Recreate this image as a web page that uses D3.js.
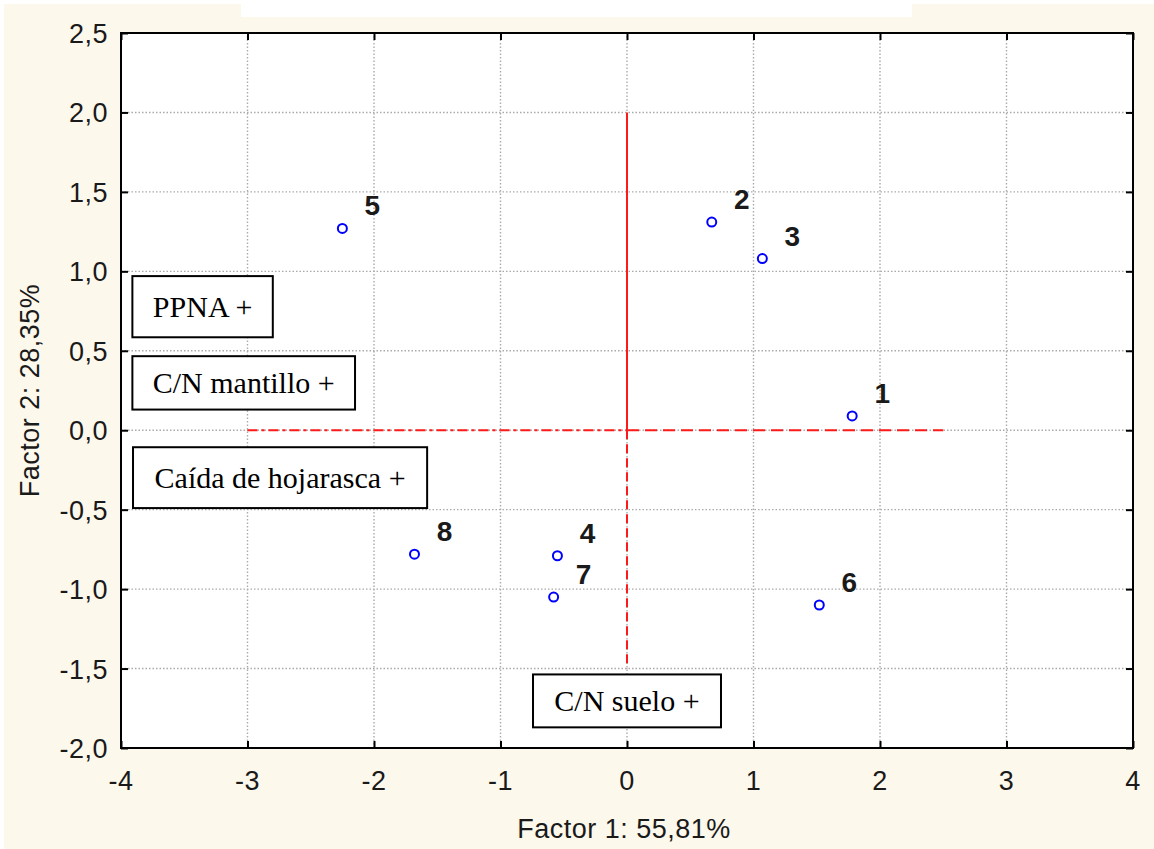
<!DOCTYPE html>
<html>
<head>
<meta charset="utf-8">
<script src="https://cdn.jsdelivr.net/npm/d3@7"></script>
<style>
	html, body { margin: 0; padding: 0; background: #ffffff; }
	svg { display: block; }
</style>
</head>
<body>
<svg></svg>
<script>
const width = 1154;
const height = 849;
const margin = {top: 33, right: 21, bottom: 101, left: 121};
const bgColor = '#fdf8ec';
const pointColor = '#0000ff';
const refColor = '#ff1a1a';
const sans = 'Liberation Sans, Arial, sans-serif';
const serif = 'Liberation Serif, Times New Roman, serif';

// scores of the 8 sites on the two factors
const pointIds = ['1', '2', '3', '4', '5', '6', '7', '8'];
const factor1 = [1.78, 0.67, 1.07, -0.55, -2.25, 1.52, -0.58, -1.68];
const factor2 = [0.09, 1.31, 1.08, -0.79, 1.27, -1.10, -1.05, -0.78];

const xTicks = [-4, -3, -2, -1, 0, 1, 2, 3, 4];
const yTicks = [-2.0, -1.5, -1.0, -0.5, 0.0, 0.5, 1.0, 1.5, 2.0, 2.5];
const xDomain = [-4, 4];
const yDomain = [-2, 2.5];

const xTitle = 'Factor 1: 55,81%';
const yTitle = 'Factor 2: 28,35%';

// variable labels drawn as boxes
const varLabels = ['PPNA +', 'C/N mantillo +', 'Caída de hojarasca +', 'C/N suelo +'];
// box extents in factor units: x0, x1, y0, y1
const varBoxes = [
	[-3.91, -2.80, 0.97, 0.585],
	[-3.91, -2.15, 0.466, 0.13],
	[-3.905, -1.58, -0.107, -0.49],
	[-0.743, 0.743, -1.537, -1.87]
];

// red reference segments: x1, y1, x2, y2, dash
const refSegments = [
	[0, 2, 0, 0, null],
	[0, 0, 0, -1.5, '9,5'],
	[-3, 0, 0, 0, '10,4,3,4'],
	[0, 0, 2.5, 0, '12,6']
];

var svg = d3.select('svg').attr('width', width).attr('height', height);

// background
svg.append('rect').attr('x', 4).attr('y', 4)
	.attr('width', width - 4).attr('height', height - 4)
	.style('fill', bgColor);
svg.append('rect').attr('x', 241).attr('y', 0)
	.attr('width', 671).attr('height', 17)
	.style('fill', '#ffffff');

var x = d3.scaleLinear().domain(xDomain).range([margin.left, width - margin.right]);
var y = d3.scaleLinear().domain(yDomain).range([height - margin.bottom, margin.top]);

var plot = svg.append('g');

plot.append('rect')
	.attr('x', x(xDomain[0])).attr('y', y(yDomain[1]))
	.attr('width', x(xDomain[1]) - x(xDomain[0]))
	.attr('height', y(yDomain[0]) - y(yDomain[1]))
	.style('fill', '#ffffff');

// dotted grid
plot.selectAll('line.gx').data(xTicks.slice(1, -1)).enter().append('line')
	.attr('x1', d => x(d)).attr('x2', d => x(d))
	.attr('y1', y(yDomain[0])).attr('y2', y(yDomain[1]))
	.style('stroke', '#aaaaaa').style('stroke-width', 1.4)
	.style('stroke-dasharray', '1.5,2');
plot.selectAll('line.gy').data(yTicks.slice(1, -1)).enter().append('line')
	.attr('y1', d => y(d)).attr('y2', d => y(d))
	.attr('x1', x(xDomain[0])).attr('x2', x(xDomain[1]))
	.style('stroke', '#aaaaaa').style('stroke-width', 1.4)
	.style('stroke-dasharray', '1.5,2');

// ticks on all four sides, pointing inward
var xMinor = d3.range(-4, 4.001, 0.25);
var yMinor = d3.range(-2, 2.501, 0.1);
function tickAxis(axisFn, scale, major, minor, tr){
	var g = plot.append('g').attr('transform', tr);
	g.call(axisFn(scale).tickValues(minor).tickSize(-3).tickFormat(''));
	g.call(axisFn(scale).tickValues(major).tickSize(-7).tickFormat(''));
	g.selectAll('.domain').remove();
	g.selectAll('line').style('stroke', '#000').style('stroke-width', 2);
	return g;
}
tickAxis(d3.axisBottom, x, xTicks, xMinor, `translate(0,${y(yDomain[0])})`);
tickAxis(d3.axisTop, x, xTicks, xMinor, `translate(0,${y(yDomain[1])})`);
tickAxis(d3.axisLeft, y, yTicks, yMinor, `translate(${x(xDomain[0])},0)`);
tickAxis(d3.axisRight, y, yTicks, yMinor, `translate(${x(xDomain[1])},0)`);

// tick labels
var fmt = d => d3.format('.1f')(d).replace('.', ',').replace('−', '-');
plot.selectAll('text.xt').data(xTicks).enter().append('text')
	.attr('x', d => x(d)).attr('y', y(yDomain[0]) + 42)
	.attr('text-anchor', 'middle')
	.style('font-family', sans).style('letter-spacing', '0.5px')
	.style('font-size', '27px').style('fill', '#1a1a1a')
	.text(d => String(d));
plot.selectAll('text.yt').data(yTicks).enter().append('text')
	.attr('x', x(xDomain[0]) - 13).attr('y', d => y(d) + 10)
	.attr('text-anchor', 'end')
	.style('font-family', sans).style('letter-spacing', '0.5px')
	.style('font-size', '27px').style('fill', '#1a1a1a')
	.text(fmt);

// red reference lines
plot.selectAll('line.ref').data(refSegments).enter().append('line')
	.attr('x1', d => x(d[0])).attr('y1', d => y(d[1]))
	.attr('x2', d => x(d[2])).attr('y2', d => y(d[3]))
	.style('stroke', refColor).style('stroke-width', 2)
	.style('stroke-dasharray', d => d[4]);

// frame
plot.append('rect')
	.attr('x', x(xDomain[0])).attr('y', y(yDomain[1]))
	.attr('width', x(xDomain[1]) - x(xDomain[0]))
	.attr('height', y(yDomain[0]) - y(yDomain[1]))
	.style('fill', 'none').style('stroke', '#000').style('stroke-width', 2);

// variable boxes
var boxes = plot.selectAll('g.vbox').data(varBoxes).enter().append('g');
boxes.append('rect')
	.attr('x', d => x(d[0])).attr('y', d => y(d[2]))
	.attr('width', d => x(d[1]) - x(d[0]))
	.attr('height', d => y(d[3]) - y(d[2]))
	.style('fill', '#ffffff').style('stroke', '#000').style('stroke-width', 2);
boxes.append('text')
	.attr('x', d => (x(d[0]) + x(d[1])) / 2)
	.attr('y', d => (y(d[2]) + y(d[3])) / 2 + 10)
	.attr('text-anchor', 'middle')
	.style('font-family', serif)
	.style('font-size', '30px').style('fill', '#000')
	.text((d, i) => varLabels[i]);

// points and labels
var pts = pointIds.map((id, i) => ({id: id, f1: factor1[i], f2: factor2[i]}));
plot.selectAll('circle.pt').data(pts).enter().append('circle')
	.attr('cx', d => x(d.f1)).attr('cy', d => y(d.f2)).attr('r', 4.5)
	.style('fill', 'none').style('stroke', pointColor).style('stroke-width', 2);
plot.selectAll('text.pl').data(pts).enter().append('text')
	.attr('x', d => x(d.f1) + 30).attr('y', d => y(d.f2) - 13)
	.attr('text-anchor', 'middle')
	.style('font-family', sans)
	.style('font-size', '28px').style('font-weight', 'bold').style('fill', '#1a1a1a')
	.text(d => d.id);

// axis titles
svg.append('text')
	.attr('x', 624).attr('y', 838)
	.attr('text-anchor', 'middle')
	.style('font-family', sans).style('letter-spacing', '0.5px')
	.style('font-size', '27px').style('fill', '#1a1a1a')
	.text(xTitle);
svg.append('text')
	.attr('transform', `translate(39,${(y(yDomain[0]) + y(yDomain[1])) / 2}) rotate(-90)`)
	.attr('text-anchor', 'middle')
	.style('font-family', sans).style('letter-spacing', '0.5px')
	.style('font-size', '27px').style('fill', '#1a1a1a')
	.text(yTitle);
</script>
</body>
</html>
